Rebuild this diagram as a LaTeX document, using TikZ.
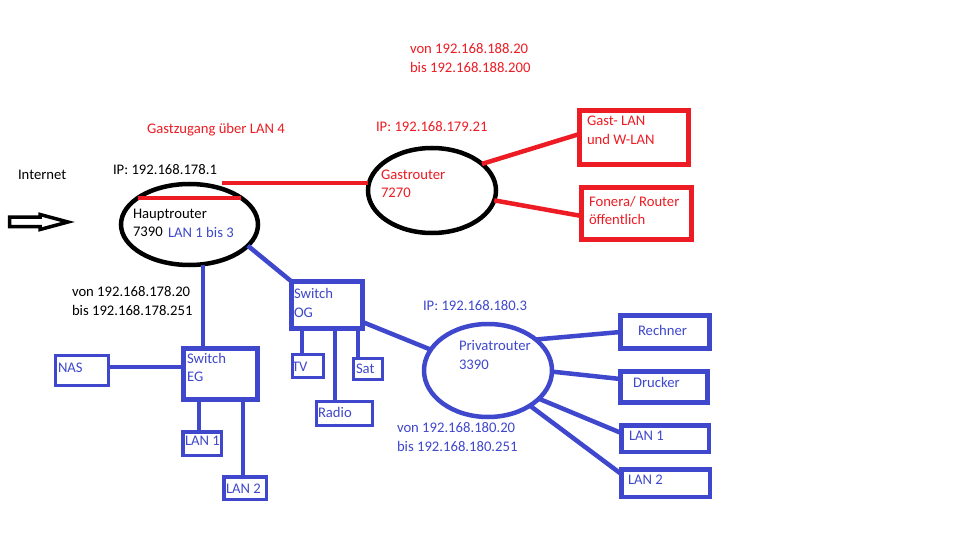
\documentclass[tikz,border=0pt]{standalone}
\usepackage{fontspec}
\setmainfont{Carlito}
\usetikzlibrary{shapes.geometric,calc}
\definecolor{pred}{HTML}{ED1C24}
\definecolor{pblue}{HTML}{3F48CC}
\begin{document}
\begin{tikzpicture}[x=1pt,y=-1pt,
 txt/.style={inner sep=0pt, outer sep=0pt, anchor=west, align=left, font=\fontsize{14.67}{18.5}\selectfont},
 router/.style={ellipse, draw=black, line width=4.5pt, inner sep=0pt, outer sep=0pt},
 rbox/.style={rectangle, draw=pred, line width=5pt, inner sep=0pt, outer sep=0pt},
 bbox/.style={rectangle, draw=pblue, line width=#1, inner sep=0pt, outer sep=0pt},
 bbox/.default=4.5pt,
 rwire/.style={draw=pred, line width=4.5pt},
 bwire/.style={draw=pblue, line width=4.5pt},
 bthin/.style={draw=pblue, line width=3.3pt}]
\useasboundingbox[fill=white] (0,0) rectangle (960,540);

% routers
\node[router, minimum width=137pt, minimum height=81pt] (haupt) at (189.5,224.5) {};
\node[router, minimum width=128pt, minimum height=85pt] (gast) at (432,190.5) {};
\node[router, draw=pblue, minimum width=128pt, minimum height=93pt] (privat) at (488,370.5) {};

% red boxes
\node[rbox, minimum width=109pt, minimum height=54pt] (gastlan) at (634,137.5) {};
\node[rbox, minimum width=110pt, minimum height=52pt] (fonera) at (636.5,213.5) {};

% blue boxes
\node[bbox=5pt, minimum width=74pt, minimum height=51pt] (swEG) at (220.5,374) {};
\node[bbox=5pt, minimum width=71pt, minimum height=47pt] (swOG) at (327,305) {};
\node[bbox=3pt, minimum width=53pt, minimum height=30pt] (nas) at (82,370.5) {};
\node[bbox=3.5pt, minimum width=38.5pt, minimum height=23.5pt] (eglan1) at (202,443.5) {};
\node[bbox=3.5pt, minimum width=42.5pt, minimum height=22.5pt] (eglan2) at (245,488) {};
\node[bbox=3pt, minimum width=31pt, minimum height=23pt] (tv) at (308,366) {};
\node[bbox=3pt, minimum width=56pt, minimum height=24pt] (radio) at (344.5,413.5) {};
\node[bbox=3pt, minimum width=29pt, minimum height=21pt] (sat) at (368,369) {};
\node[bbox=5pt, minimum width=89pt, minimum height=33pt] (rechner) at (665,332) {};
\node[bbox=4.5pt, minimum width=87pt, minimum height=31pt] (drucker) at (664,387) {};
\node[bbox=4.5pt, minimum width=87.5pt, minimum height=26.5pt] (lan1) at (665,438.5) {};
\node[bbox=4.5pt, minimum width=88.5pt, minimum height=27.5pt] (lan2) at (665.5,483) {};

% red connectors
\draw[rwire] (haupt.153) -- (haupt.27);
\coordinate (rstart) at (222,183);
\draw[rwire] (rstart) -- (rstart -| gast.west);
\draw[rwire] (gast.28) -- ($(gastlan.west)+(0,-3.5)$);
\draw[rwire] (gast.-9) -- ($(fonera.west)+(0,2.5)$);

% blue connectors
\coordinate (egup) at ($(swEG.north west)+(19,0)$);
\draw[bwire, line width=4pt] (egup) -- (egup |- haupt.south);
\draw[bwire] (haupt.-20) -- (swOG.north west);
\coordinate (nasw) at ($(nas.east)+(0,-3.5)$);
\draw[bthin] (nasw) -- (nasw -| swEG.west);
\coordinate (eg1) at ($(eglan1.north west)+(16.25,0)$);
\draw[bthin] (eg1) -- (eg1 |- swEG.south);
\coordinate (eg2) at ($(eglan2.north west)+(19.25,0)$);
\draw[bthin] (eg2) -- (eg2 |- swEG.south);
\coordinate (tvup) at ($(tv.north west)+(9.5,0)$);
\draw[bthin] (tvup) -- (tvup |- swOG.south);
\coordinate (radioup) at ($(radio.north west)+(18.5,0)$);
\draw[bthin] (radioup) -- (radioup |- swOG.south);
\coordinate (satup) at ($(sat.north west)+(4.5,0)$);
\draw[bthin] (satup) -- (satup |- swOG.south);
\coordinate (ogr) at ($(swOG.south east)+(0,-6.5)$);
\draw[bwire] (ogr) -- (privat.160);
\draw[bwire] (privat.33) -- (rechner.west);
\draw[bwire] (privat.-1) -- ($(drucker.west)+(0,-8)$);
\draw[bwire] (privat.-29) -- ($(lan1.west)+(0,-5.5)$);
\draw[bwire] (privat.-40) -- ($(lan2.west)+(0,-9)$);

% internet arrow
\draw[line width=3.5pt, line join=miter] (9.5,217) -- (40,217) -- (40,214.5) -- (68,222) -- (40,229.5) -- (40,226.5) -- (9.5,226.5) -- cycle;

% texts black
\node[txt] (tInternet) at (18,175) {Internet};
\node[txt] (tIPh) at (113,170) {IP: 192.168.178.1};
\node[txt] (tHaupt) at (133,223) {Hauptrouter\\7390};
\node[txt, text=pblue] (tLan13) at (168,232) {LAN 1 bis 3};
\node[txt] (tRangeH) at (72,301) {von 192.168.178.20\\bis 192.168.178.251};

% texts red
\node[txt, text=pred] (tGastz) at (147,130) {Gastzugang über LAN 4};
\node[txt, text=pred] (tRangeG) at (410,58) {von 192.168.188.20\\bis 192.168.188.200};
\node[txt, text=pred] (tIPg) at (376,127) {IP: 192.168.179.21};
\node[txt, text=pred] (tGast) at (381,184) {Gastrouter\\7270};
\node[txt, text=pred] (tGastlan) at (587,130.5) {Gast- LAN\\und W-LAN};
\node[txt, text=pred] (tFonera) at (589,210.5) {Fonera/ Router\\öffentlich};

% texts blue
\node[txt, text=pblue] (tSwEG) at (187,367.5) {Switch\\EG};
\node[txt, text=pblue] (tNas) at (58,368) {NAS};
\node[txt, text=pblue] (tEgl1) at (185,441) {LAN 1};
\node[txt, text=pblue] (tEgl2) at (226,489) {LAN 2};
\node[txt, text=pblue] (tSwOG) at (294,303) {Switch\\OG};
\node[txt, text=pblue] (tTv) at (292,367) {TV};
\node[txt, text=pblue] (tSat) at (356,369) {Sat};
\node[txt, text=pblue] (tRadio) at (318,412) {Radio};
\node[txt, text=pblue] (tIPp) at (423,306) {IP: 192.168.180.3};
\node[txt, text=pblue] (tPriv) at (459,355) {Privatrouter\\3390};
\node[txt, text=pblue] (tRangeP) at (397,437) {von 192.168.180.20\\bis 192.168.180.251};
\node[txt, text=pblue] (tRechner) at (638,330) {Rechner};
\node[txt, text=pblue] (tDrucker) at (633,382) {Drucker};
\node[txt, text=pblue] (tLan1) at (629,436) {LAN 1};
\node[txt, text=pblue] (tLan2) at (628,480) {LAN 2};
\end{tikzpicture}
\end{document}
